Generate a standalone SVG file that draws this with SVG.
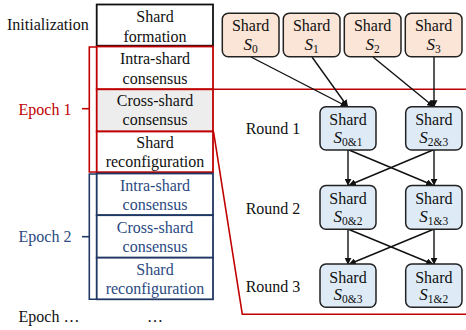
<svg xmlns="http://www.w3.org/2000/svg" width="466" height="330" viewBox="0 0 466 330">
<defs>
<style>
.boxPeach{fill:#FBE5D6;stroke:#222;stroke-width:1.5}
.boxBlue{fill:#DEEBF7;stroke:#222;stroke-width:1.5}
</style>
<marker id="ah" viewBox="0 0 10 10" refX="9" refY="5" markerWidth="7" markerHeight="7" markerUnits="userSpaceOnUse" orient="auto">
<path d="M0,0 L10,5 L0,10 z" fill="#111"/>
</marker>
</defs>
<rect width="466" height="330" fill="#fff"/>
<g id="zoom" fill="none" stroke="#C00000" stroke-width="1.6">
<line x1="213" y1="89.3" x2="466" y2="89.3"/>
<polyline points="213.5,131.5 242.3,314.3 466,314.3"/>
</g>
<g id="init">
<rect x="96.7" y="4.5" width="116.3" height="41.2" fill="#fff" stroke="#111" stroke-width="1.8"/>
<text font-family="Liberation Serif" font-size="16" fill="#111" x="7" y="30">Initialization</text>
<text font-family="Liberation Serif" font-size="16" fill="#111" text-anchor="middle" x="155" y="22">Shard</text>
<text font-family="Liberation Serif" font-size="16" fill="#111" text-anchor="middle" x="155" y="41.5">formation</text>
</g>
<g id="epoch1">
<polyline points="96.7,47 89.3,47 89.3,172 96.7,172" fill="none" stroke="#C00000" stroke-width="1.6"/>
<line x1="82" y1="108.7" x2="89.3" y2="108.7" stroke="#C00000" stroke-width="1.6"/>
<rect x="96.7" y="46.5" width="116.3" height="42.8" fill="#fff" stroke="#C00000" stroke-width="1.8"/>
<rect x="96.7" y="89.3" width="116.3" height="42.2" fill="#EDEDED" stroke="#C00000" stroke-width="1.8"/>
<rect x="96.7" y="131.5" width="116.3" height="40.7" fill="#fff" stroke="#C00000" stroke-width="1.8"/>
<text font-family="Liberation Serif" font-size="16" fill="#C00000" x="18.5" y="115">Epoch 1</text>
<text font-family="Liberation Serif" font-size="16" fill="#111" text-anchor="middle" x="155" y="64">Intra-shard</text>
<text font-family="Liberation Serif" font-size="16" fill="#111" text-anchor="middle" x="155" y="83.5">consensus</text>
<text font-family="Liberation Serif" font-size="16" fill="#111" text-anchor="middle" x="155" y="105.5">Cross-shard</text>
<text font-family="Liberation Serif" font-size="16" fill="#111" text-anchor="middle" x="155" y="125">consensus</text>
<text font-family="Liberation Serif" font-size="16" fill="#111" text-anchor="middle" x="155" y="148">Shard</text>
<text font-family="Liberation Serif" font-size="16" fill="#111" text-anchor="middle" x="155" y="167">reconfiguration</text>
</g>
<g id="epoch2">
<polyline points="96.7,174 89.3,174 89.3,299.3 96.7,299.3" fill="none" stroke="#203864" stroke-width="1.6"/>
<line x1="82" y1="236.7" x2="89.3" y2="236.7" stroke="#203864" stroke-width="1.6"/>
<rect x="96.7" y="173.5" width="116.3" height="41.7" fill="#fff" stroke="#203864" stroke-width="1.8"/>
<rect x="96.7" y="215.2" width="116.3" height="42.5" fill="#fff" stroke="#203864" stroke-width="1.8"/>
<rect x="96.7" y="257.7" width="116.3" height="41.6" fill="#fff" stroke="#203864" stroke-width="1.8"/>
<text font-family="Liberation Serif" font-size="16" fill="#2B4A82" x="18.5" y="242">Epoch 2</text>
<text font-family="Liberation Serif" font-size="16" fill="#2B4A82" text-anchor="middle" x="155" y="191">Intra-shard</text>
<text font-family="Liberation Serif" font-size="16" fill="#2B4A82" text-anchor="middle" x="155" y="210">consensus</text>
<text font-family="Liberation Serif" font-size="16" fill="#2B4A82" text-anchor="middle" x="155" y="233">Cross-shard</text>
<text font-family="Liberation Serif" font-size="16" fill="#2B4A82" text-anchor="middle" x="155" y="252">consensus</text>
<text font-family="Liberation Serif" font-size="16" fill="#2B4A82" text-anchor="middle" x="155" y="274.5">Shard</text>
<text font-family="Liberation Serif" font-size="16" fill="#2B4A82" text-anchor="middle" x="155" y="293.5">reconfiguration</text>
</g>
<g id="epochN">
<text font-family="Liberation Serif" font-size="16" fill="#111" x="18.5" y="322">Epoch …</text>
<text font-family="Liberation Serif" font-size="16" fill="#111" text-anchor="middle" x="155" y="322">…</text>
</g>
<g id="labels">
<text font-family="Liberation Serif" font-size="16" fill="#111" x="245.7" y="134">Round 1</text>
<text font-family="Liberation Serif" font-size="16" fill="#111" x="245.7" y="213.5">Round 2</text>
<text font-family="Liberation Serif" font-size="16" fill="#111" x="245.7" y="291.5">Round 3</text>
</g>
<g id="connectors" stroke="#111" stroke-width="1.4" marker-end="url(#ah)">
<line x1="251" y1="57" x2="347" y2="106.5"/>
<line x1="312" y1="57" x2="347.5" y2="106.5"/>
<line x1="373" y1="57" x2="433.5" y2="106.5"/>
<line x1="434" y1="57" x2="434" y2="106.5"/>
<line x1="348" y1="150" x2="348" y2="185"/>
<line x1="349" y1="150" x2="432.5" y2="185"/>
<line x1="433" y1="150" x2="349.5" y2="185"/>
<line x1="434" y1="150" x2="434" y2="185"/>
<line x1="348" y1="229.5" x2="348" y2="264"/>
<line x1="349" y1="229.5" x2="432.5" y2="264"/>
<line x1="433" y1="229.5" x2="349.5" y2="264"/>
<line x1="434" y1="229.5" x2="434" y2="264"/>
</g>
<g id="s0"><rect class="boxPeach" x="222.3" y="13.3" width="56.7" height="43.4" rx="6"/>
<text font-family="Liberation Serif" font-size="16" fill="#111" text-anchor="middle" x="250.6" y="31">Shard</text>
<text font-family="Liberation Serif" font-size="17" fill="#111" text-anchor="middle" x="250.6" y="49.5"><tspan font-style="italic">S</tspan><tspan font-size="11.5" dy="3">0</tspan></text></g>
<g id="s1"><rect class="boxPeach" x="283.3" y="13.3" width="56.7" height="43.4" rx="6"/>
<text font-family="Liberation Serif" font-size="16" fill="#111" text-anchor="middle" x="311.6" y="31">Shard</text>
<text font-family="Liberation Serif" font-size="17" fill="#111" text-anchor="middle" x="311.6" y="49.5"><tspan font-style="italic">S</tspan><tspan font-size="11.5" dy="3">1</tspan></text></g>
<g id="s2"><rect class="boxPeach" x="344.3" y="13.3" width="56.7" height="43.4" rx="6"/>
<text font-family="Liberation Serif" font-size="16" fill="#111" text-anchor="middle" x="372.6" y="31">Shard</text>
<text font-family="Liberation Serif" font-size="17" fill="#111" text-anchor="middle" x="372.6" y="49.5"><tspan font-style="italic">S</tspan><tspan font-size="11.5" dy="3">2</tspan></text></g>
<g id="s3"><rect class="boxPeach" x="405.3" y="13.3" width="56.7" height="43.4" rx="6"/>
<text font-family="Liberation Serif" font-size="16" fill="#111" text-anchor="middle" x="433.6" y="31">Shard</text>
<text font-family="Liberation Serif" font-size="17" fill="#111" text-anchor="middle" x="433.6" y="49.5"><tspan font-style="italic">S</tspan><tspan font-size="11.5" dy="3">3</tspan></text></g>
<g id="s01"><rect class="boxBlue" x="320" y="106.7" width="56" height="43.3" rx="6"/>
<text font-family="Liberation Serif" font-size="16" fill="#111" text-anchor="middle" x="348" y="125">Shard</text>
<text font-family="Liberation Serif" font-size="17" fill="#111" text-anchor="middle" x="348" y="142.5"><tspan font-style="italic">S</tspan><tspan font-size="11.5" dy="3">0&amp;1</tspan></text></g>
<g id="s23"><rect class="boxBlue" x="405.7" y="106.7" width="56.3" height="43.3" rx="6"/>
<text font-family="Liberation Serif" font-size="16" fill="#111" text-anchor="middle" x="433.8" y="125">Shard</text>
<text font-family="Liberation Serif" font-size="17" fill="#111" text-anchor="middle" x="433.8" y="142.5"><tspan font-style="italic">S</tspan><tspan font-size="11.5" dy="3">2&amp;3</tspan></text></g>
<g id="s02"><rect class="boxBlue" x="320" y="185.5" width="56" height="43.8" rx="6"/>
<text font-family="Liberation Serif" font-size="16" fill="#111" text-anchor="middle" x="348" y="204">Shard</text>
<text font-family="Liberation Serif" font-size="17" fill="#111" text-anchor="middle" x="348" y="221.5"><tspan font-style="italic">S</tspan><tspan font-size="11.5" dy="3">0&amp;2</tspan></text></g>
<g id="s13"><rect class="boxBlue" x="405.7" y="185.5" width="56.3" height="43.8" rx="6"/>
<text font-family="Liberation Serif" font-size="16" fill="#111" text-anchor="middle" x="433.8" y="204">Shard</text>
<text font-family="Liberation Serif" font-size="17" fill="#111" text-anchor="middle" x="433.8" y="221.5"><tspan font-style="italic">S</tspan><tspan font-size="11.5" dy="3">1&amp;3</tspan></text></g>
<g id="s03"><rect class="boxBlue" x="320" y="264" width="56" height="43.3" rx="6"/>
<text font-family="Liberation Serif" font-size="16" fill="#111" text-anchor="middle" x="348" y="282.5">Shard</text>
<text font-family="Liberation Serif" font-size="17" fill="#111" text-anchor="middle" x="348" y="300"><tspan font-style="italic">S</tspan><tspan font-size="11.5" dy="3">0&amp;3</tspan></text></g>
<g id="s12"><rect class="boxBlue" x="405.7" y="264" width="56.3" height="43.3" rx="6"/>
<text font-family="Liberation Serif" font-size="16" fill="#111" text-anchor="middle" x="433.8" y="282.5">Shard</text>
<text font-family="Liberation Serif" font-size="17" fill="#111" text-anchor="middle" x="433.8" y="300"><tspan font-style="italic">S</tspan><tspan font-size="11.5" dy="3">1&amp;2</tspan></text></g>
</svg>
